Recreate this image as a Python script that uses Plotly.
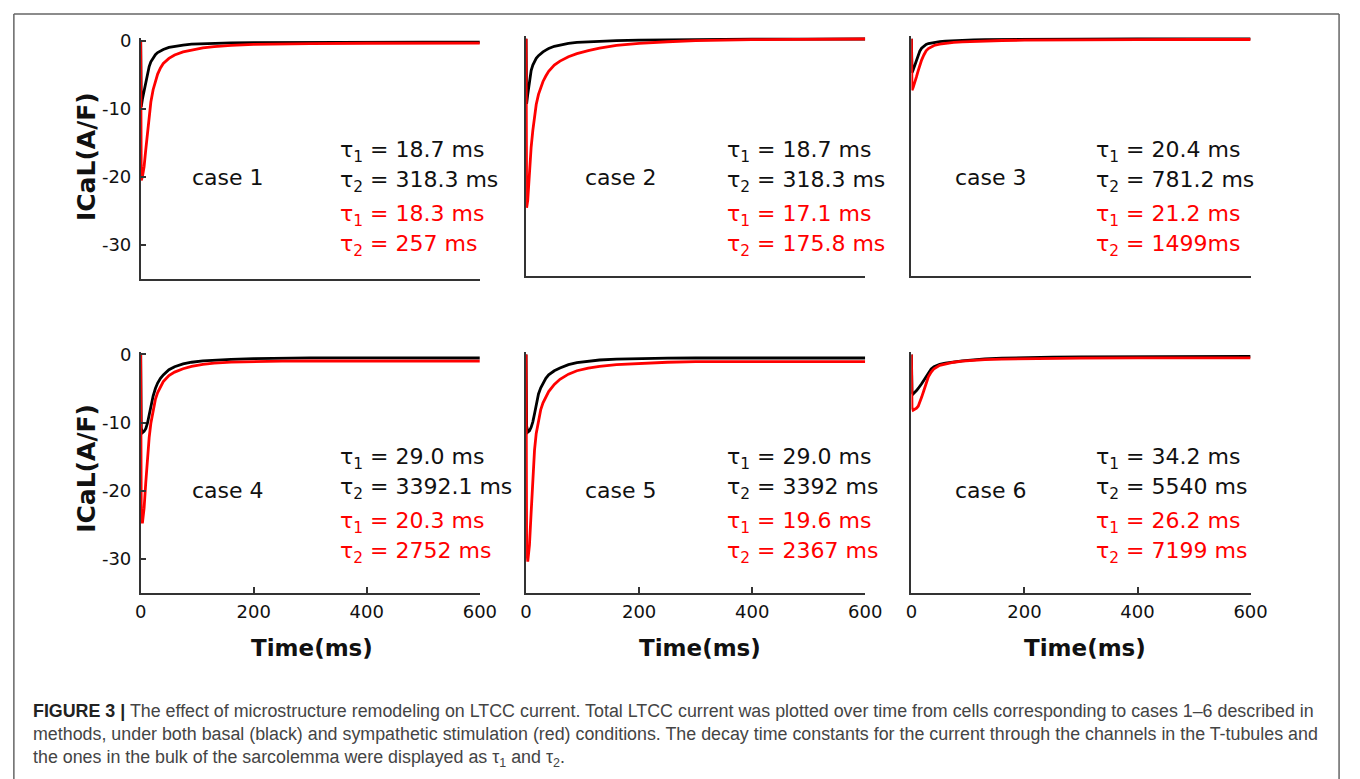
import plotly.graph_objects as go

# Sample times (ms) shared by every trace
time_ms = [0, 1, 3, 6, 9, 12, 15, 18, 22, 26, 30, 35, 40, 50, 60, 75, 90,
           110, 130, 160, 200, 250, 300, 400, 500, 600]

# ICaL (A/F) under basal (black) and sympathetic (red) conditions
case1_basal = [0, -9.7, -8.6, -7.4, -6.1, -4.9, -3.8, -3.1, -2.5, -2.05, -1.75, -1.5, -1.3,
               -1.0, -0.82, -0.64, -0.52, -0.44, -0.38, -0.33, -0.29, -0.26, -0.24, -0.22, -0.21, -0.2]
case1_symp = [0, -20.5, -20.0, -18.5, -16.0, -13.5, -11.0, -9.0, -7.2, -5.9, -4.9, -4.0, -3.35,
              -2.6, -2.1, -1.65, -1.35, -1.05, -0.88, -0.68, -0.56, -0.47, -0.42, -0.38, -0.37, -0.36]

case2_basal = [0, -9.6, -8.2, -6.1, -4.7, -3.9, -3.3, -2.9, -2.5, -2.2, -1.95, -1.68, -1.45,
               -1.12, -0.9, -0.68, -0.55, -0.45, -0.37, -0.29, -0.22, -0.16, -0.12, -0.08, -0.06, -0.05]
case2_symp = [0, -24.9, -23.8, -19.5, -16.0, -13.5, -11.5, -9.7, -8.2, -7.1, -6.3, -5.5, -4.8,
              -3.9, -3.3, -2.65, -2.2, -1.75, -1.4, -1.0, -0.68, -0.45, -0.29, -0.14, -0.08, -0.05]

case3_basal = [0, -5.0, -4.6, -3.95, -3.1, -2.35, -1.8, -1.4, -1.05, -0.85, -0.72, -0.62, -0.54,
               -0.43, -0.35, -0.27, -0.22, -0.17, -0.14, -0.11, -0.09, -0.07, -0.06, -0.04, -0.03, -0.02]
case3_symp = [0, -7.6, -7.2, -6.5, -5.6, -4.7, -3.85, -3.15, -2.4, -1.8, -1.45, -1.18, -1.0,
              -0.8, -0.67, -0.54, -0.46, -0.39, -0.33, -0.27, -0.22, -0.18, -0.16, -0.13, -0.12, -0.12]

case4_basal = [0, -10.8, -11.5, -11.3, -10.9, -10.1, -8.9, -7.6, -6.1, -5.0, -4.2, -3.5, -3.0,
               -2.25, -1.8, -1.4, -1.15, -0.96, -0.84, -0.72, -0.62, -0.55, -0.5, -0.5, -0.52, -0.53]
case4_symp = [0, -23.5, -24.8, -22.6, -18.8, -14.9, -12.2, -10.1, -8.1, -6.6, -5.6, -4.7, -4.0,
              -3.1, -2.6, -2.1, -1.75, -1.45, -1.27, -1.12, -1.03, -0.98, -0.97, -0.97, -0.99, -1.0]

case5_basal = [0, -10.5, -11.4, -11.2, -10.7, -9.9, -8.7, -7.2, -5.8, -4.9, -4.2, -3.5, -3.0,
               -2.4, -2.0, -1.5, -1.2, -0.97, -0.82, -0.69, -0.6, -0.55, -0.53, -0.53, -0.53, -0.53]
case5_symp = [0, -28.5, -30.4, -28.0, -23.2, -17.5, -14.0, -11.6, -9.5, -8.1, -7.1, -6.2, -5.45,
              -4.4, -3.65, -2.9, -2.4, -2.0, -1.75, -1.5, -1.3, -1.15, -1.07, -1.05, -1.06, -1.06]

case6_basal = [0, -5.6, -5.8, -5.6, -5.3, -5.0, -4.7, -4.3, -3.8, -3.3, -2.7, -2.15, -1.8,
               -1.45, -1.28, -1.08, -0.95, -0.8, -0.66, -0.56, -0.47, -0.42, -0.38, -0.34, -0.32, -0.3]
case6_symp = [0, -7.8, -8.2, -8.1, -7.9, -7.6, -7.0, -6.3, -5.3, -4.2, -3.3, -2.6, -2.1,
              -1.6, -1.38, -1.15, -0.98, -0.86, -0.76, -0.68, -0.62, -0.57, -0.54, -0.52, -0.51, -0.5]

case_labels = ["case 1", "case 2", "case 3", "case 4", "case 5", "case 6"]
basal_tau1 = ["18.7 ms", "18.7 ms", "20.4 ms", "29.0 ms", "29.0 ms", "34.2 ms"]
basal_tau2 = ["318.3 ms", "318.3 ms", "781.2 ms", "3392.1 ms", "3392 ms", "5540 ms"]
symp_tau1 = ["18.3 ms", "17.1 ms", "21.2 ms", "20.3 ms", "19.6 ms", "26.2 ms"]
symp_tau2 = ["257 ms", "175.8 ms", "1499ms", "2752 ms", "2367 ms", "7199 ms"]

x_ticks = [0, 200, 400, 600]
y_ticks = [0, -10, -20, -30]
y_tick_text = ["0", "-10", "-20", "-30"]

basal_series = [case1_basal, case2_basal, case3_basal, case4_basal, case5_basal, case6_basal]
symp_series = [case1_symp, case2_symp, case3_symp, case4_symp, case5_symp, case6_symp]

W, H = 1360, 779
FONT = "DejaVu Sans"
AXIS_COLOR = "#333333"
Y_MIN, Y_MAX = -35, 0.4

# panel geometry in pixels: (left, right, y of zero line, y of bottom axis)
panels = [
    (137, 482, 33, 274),
    (529, 874, 31, 271),
    (921, 1266, 31, 271),
    (137, 482, 350, 591),
    (529, 874, 350, 591),
    (921, 1266, 350, 591),
]

fig = go.Figure()
layout = dict(
    width=W, height=H,
    margin=dict(l=0, r=0, t=0, b=0),
    paper_bgcolor="white", plot_bgcolor="white",
    showlegend=False,
    font=dict(family=FONT, color="#111111"),
)
annotations = []

def px(x):
    return x / W

def py(y):
    return 1 - y / H

for i, (left, right, zero_y, bottom_y) in enumerate(panels):
    n = i + 1
    scale = (bottom_y - zero_y) / (0 - Y_MIN)
    top_y = zero_y - Y_MAX * scale
    xa = "x" if n == 1 else f"x{n}"
    ya = "y" if n == 1 else f"y{n}"
    bottom_row = i >= 3
    first_col = i % 3 == 0

    layout["xaxis" if n == 1 else f"xaxis{n}"] = dict(
        domain=[px(left), px(right)], range=[0, 600], anchor=ya,
        showline=True, linecolor=AXIS_COLOR, linewidth=1.5,
        showgrid=False, zeroline=False,
        ticks="inside" if bottom_row else "", ticklen=6, tickwidth=1.5, tickcolor=AXIS_COLOR,
        tickvals=x_ticks, showticklabels=bottom_row,
        tickfont=dict(family=FONT, size=18, color="#111111"),
        ticklabelstandoff=2,
    )
    layout["yaxis" if n == 1 else f"yaxis{n}"] = dict(
        domain=[py(bottom_y), py(top_y)], range=[Y_MIN, Y_MAX], anchor=xa,
        showline=True, linecolor=AXIS_COLOR, linewidth=1.5,
        showgrid=False, zeroline=False,
        ticks="inside" if first_col else "", ticklen=6, tickwidth=1.5, tickcolor=AXIS_COLOR,
        tickvals=y_ticks, ticktext=y_tick_text, showticklabels=first_col,
        tickfont=dict(family=FONT, size=18, color="#111111"),
        ticklabelstandoff=4,
    )

    fig.add_trace(go.Scatter(x=time_ms, y=basal_series[i], mode="lines", xaxis=xa, yaxis=ya,
                             line=dict(color="#000000", width=2.8)))
    fig.add_trace(go.Scatter(x=time_ms, y=symp_series[i], mode="lines", xaxis=xa, yaxis=ya,
                             line=dict(color="#ff0000", width=2.8)))

    # text block: case label and decay constants
    col = i % 3
    tau_x = [338, 731, 1107][col]
    case_x = [187, 587, 963][col]
    line_y = [142, 172, 207, 237] if not bottom_row else [452, 482, 517, 547]
    case_y = 171 if not bottom_row else 488
    annotations.append(dict(text=case_labels[i], x=px(case_x), y=py(case_y), xref="paper", yref="paper",
                            xanchor="left", yanchor="middle", showarrow=False,
                            font=dict(family=FONT, size=22, color="#111111")))
    texts = [
        (f"τ<sub>1</sub> = {basal_tau1[i]}", "#111111"),
        (f"τ<sub>2</sub> = {basal_tau2[i]}", "#111111"),
        (f"τ<sub>1</sub> = {symp_tau1[i]}", "#ff0000"),
        (f"τ<sub>2</sub> = {symp_tau2[i]}", "#ff0000"),
    ]
    for (txt, colr), yy in zip(texts, line_y):
        annotations.append(dict(text=txt, x=px(tau_x), y=py(yy + 3), xref="paper", yref="paper",
                                xanchor="left", yanchor="middle", showarrow=False,
                                font=dict(family=FONT, size=22, color=colr)))

# axis titles
for yy in (150, 465):
    annotations.append(dict(text="<b>ICaL(A/F)</b>", x=px(82), y=py(yy), xref="paper", yref="paper",
                            xanchor="center", yanchor="middle", textangle=-90, showarrow=False,
                            font=dict(family=FONT, size=25, color="#111111")))
for xx in (311, 706, 1098):
    annotations.append(dict(text="<b>Time(ms)</b>", x=px(xx), y=py(647), xref="paper", yref="paper",
                            xanchor="center", yanchor="middle", showarrow=False,
                            font=dict(family=FONT, size=23, color="#111111")))

# caption
caption_lines = [
    "<span style='color:#222'><b>FIGURE 3 |</b></span> The effect of microstructure remodeling on LTCC current. "
    "Total LTCC current was plotted over time from cells corresponding to cases 1–6 described in",
    "methods, under both basal (black) and sympathetic stimulation (red) conditions. The decay time constants "
    "for the current through the channels in the T-tubules and",
    "the ones in the bulk of the sarcolemma were displayed as τ<sub>1</sub> and τ<sub>2</sub>.",
]
for txt, yy in zip(caption_lines, (710, 734, 758)):
    annotations.append(dict(text=txt, x=px(25), y=py(yy), xref="paper", yref="paper",
                            xanchor="left", yanchor="middle", showarrow=False,
                            font=dict(family="Liberation Sans", size=17.85, color="#444444")))

layout["annotations"] = annotations

# frame around the figure (open at the bottom)
frame = dict(type="line", xref="paper", yref="paper", line=dict(color="#666666", width=1.5))
layout["shapes"] = [
    dict(frame, x0=px(8), x1=px(8), y0=py(6), y1=py(800)),
    dict(frame, x0=px(8), x1=px(1356), y0=py(6), y1=py(6)),
    dict(frame, x0=px(1356), x1=px(1356), y0=py(6), y1=py(800)),
]

fig.update_layout(**layout)
fig.write_html(
    "out.html",
    post_script="document.body.style.margin='0';document.body.style.overflow='hidden';",
)
